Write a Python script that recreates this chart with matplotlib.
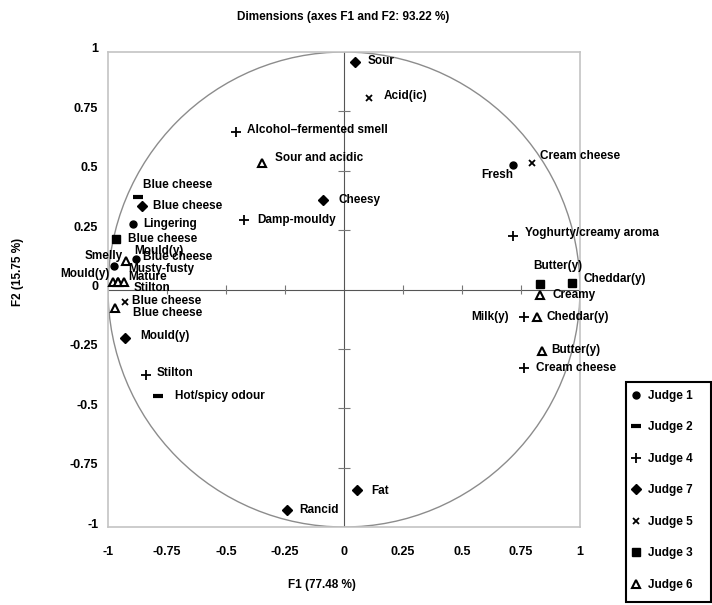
import matplotlib
matplotlib.use('Agg')
import matplotlib.pyplot as plt
import matplotlib.transforms as mtransforms
from matplotlib.patches import Circle, Rectangle
from matplotlib.lines import Line2D

plt.rcParams['font.family'] = ['Liberation Sans', 'DejaVu Sans']
plt.rcParams['font.weight'] = 'bold'

# attribute coordinates on F1 / F2, per judge
j1_names = ['Fresh', 'Lingering', 'Blue cheese', 'Smelly']
j1_x = [0.714, -0.895, -0.882, -0.974]
j1_y = [0.524, 0.276, 0.128, 0.100]

j2_names = ['Blue cheese', 'Hot/spicy odour']
j2_x = [-0.874, -0.789]
j2_y = [0.389, -0.448]

j4_names = ['Alcohol\u2013fermented smell', 'Damp-mouldy', 'Yoghurty/creamy aroma',
            'Milk(y)', 'Cream cheese', 'Stilton']
j4_x = [-0.458, -0.424, 0.716, 0.762, 0.762, -0.840]
j4_y = [0.662, 0.293, 0.225, -0.115, -0.332, -0.360]

j7_names = ['Sour', 'Cheesy', 'Blue cheese', 'Mould(y)', 'Rancid', 'Fat']
j7_x = [0.048, -0.088, -0.858, -0.929, -0.242, 0.054]
j7_y = [0.959, 0.377, 0.352, -0.204, -0.928, -0.843]

j5_names = ['Acid(ic)', 'Cream cheese', 'Blue cheese']
j5_x = [0.108, 0.795, -0.929]
j5_y = [0.808, 0.531, -0.051]

j3_names = ['Blue cheese', 'Butter(y)', 'Cheddar(y)']
j3_x = [-0.964, 0.829, 0.968]
j3_y = [0.213, 0.023, 0.026]

j6_names = ['Sour and acidic', 'Creamy', 'Cheddar(y)', 'Butter(y)', 'Mould(y)',
            'Mould(y)', 'Mature', 'Musty-fusty', 'Stilton', 'Blue cheese']
j6_x = [-0.349, 0.830, 0.816, 0.837, -0.922, -0.979, -0.958, -0.958, -0.933, -0.972]
j6_y = [0.533, -0.024, -0.116, -0.258, 0.121, 0.030, 0.030, 0.030, 0.030, -0.078]

# label offsets in pixels (dx, dy, ha)
j1_off = [(-15, -10, 'center'), (10, 0, 'left'), (7, 2, 'left'), (-10, 10, 'center')]
j2_off = [(5, 12, 'left'), (17, 0, 'left')]
j4_off = [(11, 2, 'left'), (13, 0, 'left'), (12, 3, 'left'), (-15, 0, 'right'),
          (12, 0, 'left'), (11, 2, 'left')]
j7_off = [(12, 1, 'left'), (15, 0, 'left'), (11, 0, 'left'), (15, 2, 'left'),
          (12, 0, 'left'), (15, -1, 'left')]
j5_off = [(14, 2, 'left'), (8, 7, 'left'), (7, 1, 'left')]
j3_off = [(12, 0, 'left'), (-6, 18, 'left'), (11, 4, 'left')]
j6_off = [(13, 5, 'left'), (13, 0, 'left'), (10, 0, 'left'), (10, 1, 'left'),
          (8, 10, 'left'), (-3, 8, 'right'), (10, 5, 'left'), (10, 13, 'left'),
          (10, -6, 'left'), (18, -5, 'left')]

judges = [
    ('Judge 1', j1_names, j1_x, j1_y, j1_off, dict(marker='o', ms=5, color='black')),
    ('Judge 2', j2_names, j2_x, j2_y, j2_off, dict(marker='_', ms=7, mew=3, color='black')),
    ('Judge 4', j4_names, j4_x, j4_y, j4_off, dict(marker='+', ms=6.5, mew=1.3, color='black')),
    ('Judge 7', j7_names, j7_x, j7_y, j7_off, dict(marker='D', ms=5.5, color='black')),
    ('Judge 5', j5_names, j5_x, j5_y, j5_off, dict(marker='x', ms=4.5, mew=1.3, color='black')),
    ('Judge 3', j3_names, j3_x, j3_y, j3_off, dict(marker='s', ms=5.8, color='black')),
    ('Judge 6', j6_names, j6_x, j6_y, j6_off, dict(marker='^', ms=6, mew=1.5, color='black',
                                                  mfc='white')),
]

fig = plt.figure(figsize=(7.12, 6.05), dpi=100)
ax = fig.add_axes([108 / 712, 1 - 527 / 605, 472 / 712, 475 / 605])
ax.set_xlim(-1, 1)
ax.set_ylim(-1, 1)

for s in ax.spines.values():
    s.set_color('#c4c4c4')
    s.set_linewidth(1.2)

ticks = [-1, -0.75, -0.5, -0.25, 0, 0.25, 0.5, 0.75, 1]
tick_labels = ['-1', '-0.75', '-0.5', '-0.25', '0', '0.25', '0.5', '0.75', '1']
ax.set_xticks(ticks)
ax.set_xticklabels(tick_labels)
ax.set_yticks(ticks)
ax.set_yticklabels(tick_labels)
ax.tick_params(length=0, labelsize=9)
ax.tick_params(axis='x', pad=14)
ax.tick_params(axis='y', pad=7)
up = mtransforms.ScaledTranslation(0, 0.04, fig.dpi_scale_trans)
for lab in ax.get_yticklabels():
    lab.set_transform(lab.get_transform() + up)

# correlation circle and axes through origin
ax.add_patch(Circle((0, 0), 1, fill=False, ec='#8c8c8c', lw=1.0, zorder=1))
ax.plot([-1, 1], [0, 0], color='#555555', lw=0.8, zorder=1)
ax.plot([0, 0], [-1, 1], color='#555555', lw=0.8, zorder=1)
inner = [t for t in ticks if t not in (-1, 0, 1)]
ax.vlines(inner, -0.02, 0.02, color='#777777', lw=0.8, zorder=1)
ax.hlines(inner, -0.025, 0.025, color='#777777', lw=0.8, zorder=1)

handles = []
for name, labels, xs, ys, offs, style in judges:
    ax.plot(xs, ys, ls='none', zorder=3, clip_on=False, **style)
    for lab, x, y, (dx, dy, ha) in zip(labels, xs, ys, offs):
        ax.annotate(lab, (x, y), xytext=(dx, dy), textcoords='offset pixels',
                    ha=ha, va='center', fontsize=8.5, fontweight='bold', zorder=4)
    handles.append(Line2D([], [], ls='none', **style))

fig.text(343 / 712, 1 - 17 / 605, 'Dimensions (axes F1 and F2: 93.22 %)',
         ha='center', va='center', fontsize=8.5, fontweight='bold')
fig.text(322 / 712, 1 - 585 / 605, 'F1 (77.48 %)', ha='center', va='center',
         fontsize=8.5, fontweight='bold')
fig.text(18 / 712, 1 - 272 / 605, 'F2 (15.75 %)', ha='center', va='center',
         rotation=90, fontsize=8.5, fontweight='bold')

fig.legend(handles, [j[0] for j in judges], loc='upper left',
           bbox_to_anchor=(630 / 712, 1 - 390 / 605), frameon=False,
           fontsize=8.5, handlelength=1.0, handletextpad=0.5, labelspacing=1.65,
           borderpad=0, borderaxespad=0)
fig.add_artist(Rectangle((626 / 712, 1 - 602 / 605), 85 / 712, 220 / 605,
                         transform=fig.transFigure, fill=False, ec='black', lw=1.5))

fig.savefig('out.png', dpi=100)
